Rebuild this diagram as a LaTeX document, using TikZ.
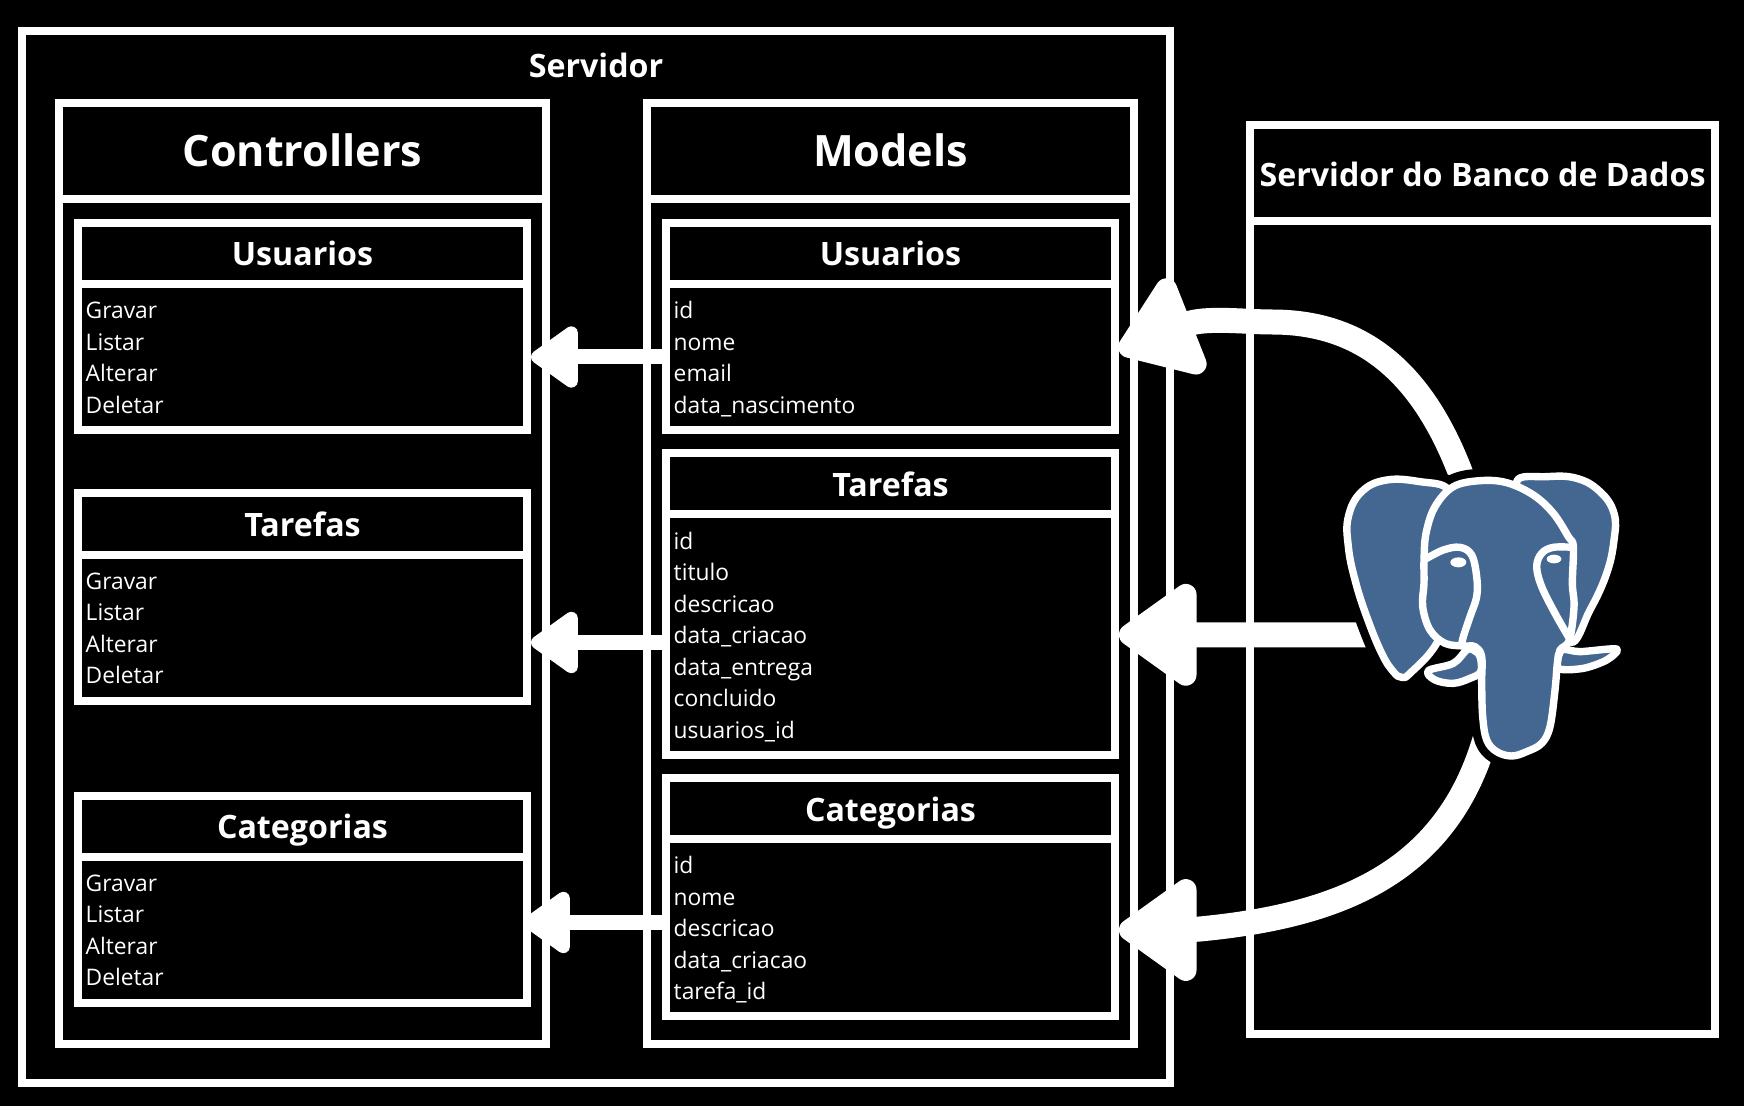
\documentclass[tikz,border=0pt]{standalone}
\usepackage{fontspec}
\setmainfont{Open Sans}
\usetikzlibrary{positioning,arrows.meta}

\definecolor{elefante}{RGB}{67,103,144}

\tikzset{
  caixa/.style={draw=white, line width=4pt, inner sep=0pt, text=white, anchor=north west},
  titulo/.style={caixa, text height=15.6pt, text depth=0pt, font=\bfseries\fontsize{21.6}{24}\selectfont},
  corpo/.style={caixa, inner xsep=3.85pt, minimum height=#1, align=left,
    font=\fontsize{11.4}{15.75}\selectfont},
  setaPequena/.style={draw=white, line width=7.5pt,
    -{Triangle[round, length=26pt, width=35pt, line width=7pt, fill=white]}},
  setaGrande/.style={draw=white, line width=12.5pt,
    -{Triangle[round, length=43pt, width=58pt, line width=11pt, fill=white]}},
  halo/.style={draw=black, line width=12pt, line join=round},
  pele/.style={draw=white, fill=elefante, line width=3.7pt, line join=round},
  traco/.style={draw=white, line width=3.7pt, line cap=round, line join=round}
}

% name, outer left, outer top, title, title width, title height, body height, lines
\newcommand{\tabela}[8]{
  \node[titulo, minimum width=#5, minimum height=#6] (#1Titulo) at (#2,#3) {#4};
  \node[corpo=#7, text width=#5-7.7pt, below=-4pt of #1Titulo] (#1Corpo) {\rule{0pt}{11pt}#8\rule[-2pt]{0pt}{2pt}};
}

\newcommand{\orelhaE}{plot[smooth cycle, tension=.7] coordinates {(385,118) (300,95) (200,90) (125,125) (85,200) (85,290) (105,390) (140,500) (185,610) (220,665) (245,682) (272,668) (350,580) (400,450) (400,200)}}
\newcommand{\orelhaD}{plot[smooth cycle, tension=.7] coordinates {(590,95) (680,80) (770,85) (840,125) (882,190) (882,270) (860,370) (810,480) (750,575) (700,400) (650,200)}}
\newcommand{\presaE}{plot[smooth cycle, tension=.6] coordinates {(440,600) (400,640) (325,662) (345,690) (400,700) (450,685) (482,665) (480,620) (460,600)}}
\newcommand{\presaD}{plot[smooth cycle, tension=.5] coordinates {(725,600) (780,605) (890,597) (860,630) (790,655) (715,655)}}
\newcommand{\cabeca}{plot[smooth cycle, tension=.6] coordinates {(312,330) (318,250) (345,170) (400,110) (480,92) (560,98) (640,135) (700,190) (745,260) (760,290) (757,400) (762,470) (748,570) (720,600) (712,640) (705,720) (690,830) (665,880) (620,905) (575,918) (530,905) (500,870) (488,800) (485,700) (485,620) (465,590) (430,588) (375,580) (330,540) (308,470) (312,400)}}

\begin{document}
\begin{tikzpicture}[x=.5pt, y=-.5pt]
\fill[black] (0,0) rectangle (1744,1106);

% Servidor
\node[caixa, minimum width=574pt, minimum height=525.5pt] (servidor) at (18,27.5) {};
\node[text=white, anchor=base, font=\bfseries\fontsize{16.1}{18}\selectfont] (servidorTitulo) at (596,78) {Servidor};

\tabela{controllers}{55}{99}{Controllers}{243.5pt}{48pt}{422.5pt}{}
\tabela{models}{643}{99}{Models}{243.5pt}{48pt}{422.5pt}{}

\tikzset{titulo/.append style={text height=13pt, text depth=.5pt, font=\bfseries\fontsize{16.1}{18}\selectfont}}
\tabela{banco}{1246}{121}{\raisebox{-.5pt}{Servidor do Banco de Dados}}{232.5pt}{48pt}{406.5pt}{}

\tabela{ctrlUsuarios}{74}{219}{Usuarios}{224.5pt}{30.5pt}{73pt}{Gravar\\Listar\\Alterar\\Deletar}
\tabela{ctrlTarefas}{74}{489.5}{Tarefas}{224.5pt}{30.5pt}{73pt}{Gravar\\Listar\\Alterar\\Deletar}
\tabela{ctrlCategorias}{74}{791.5}{Categorias}{224.5pt}{30.5pt}{73pt}{Gravar\\Listar\\Alterar\\Deletar}

\tabela{modUsuarios}{662}{219}{Usuarios}{224.5pt}{30.5pt}{73pt}{id\\nome\\email\\data\_nascimento}
\tabela{modTarefas}{662}{449.5}{Tarefas}{224.5pt}{30.5pt}{120.25pt}{id\\titulo\\descricao\\data\_criacao\\data\_entrega\\concluido\\usuarios\_id}
\tabela{modCategorias}{662}{774}{Categorias}{224.5pt}{30.5pt}{88.5pt}{id\\nome\\descricao\\data\_criacao\\tarefa\_id}

% setas entre models e controllers
\coordinate (alturaT) at (0,642.5);
\coordinate (alturaC) at (0,922.5);
\draw[setaPequena] (modUsuariosCorpo.west) -- (ctrlUsuariosCorpo.east);
\draw[setaPequena] (modTarefasCorpo.west |- alturaT) -- (ctrlTarefasCorpo.east |- alturaT);
\draw[setaPequena] (modCategoriasCorpo.west |- alturaC) -- ([xshift=-4pt]ctrlCategoriasCorpo.east |- alturaC);

% setas do banco
\coordinate (elefanteTopo) at (1470,500);
\coordinate (elefanteMeio) at (1390,635);
\coordinate (elefanteBase) at (1490,720);
\coordinate (pontaU) at (1119,351);
\coordinate (pontaC) at (1119,930);
\draw[setaGrande] (elefanteTopo) .. controls (1430,375) and (1365,322) .. (1272,322) .. controls (1245,322) and (1205,317) .. (pontaU);
\draw[setaGrande] (elefanteMeio) -- (modTarefasCorpo.east);
\draw[setaGrande] (elefanteBase) .. controls (1455,870) and (1345,915) .. (1200,929) .. controls (1175,931) and (1150,930) .. (pontaC);

% elefante
\begin{scope}[shift={(1320,450)}, x=.16667pt, y=-.16667pt]
\draw[halo] \orelhaE \orelhaD \presaE \presaD \cabeca;
\draw[pele] \orelhaE;
\draw[pele] \orelhaD;
\draw[pele] \presaE;
\draw[pele] \presaD;
\draw[pele] \cabeca;
\draw[traco] plot[smooth, tension=.6] coordinates {(315,328) (370,300) (420,292) (455,315) (470,380) (470,440) (450,500) (430,560) (425,585)};
\draw[traco] plot[smooth, tension=.6] coordinates {(760,292) (700,292) (665,310) (650,350) (665,410) (705,490) (748,565)};
\fill[white] (415,337) ellipse [x radius=24, y radius=15];
\fill[white] (702,327) ellipse [x radius=22, y radius=13];
\end{scope}
\end{tikzpicture}
\end{document}
